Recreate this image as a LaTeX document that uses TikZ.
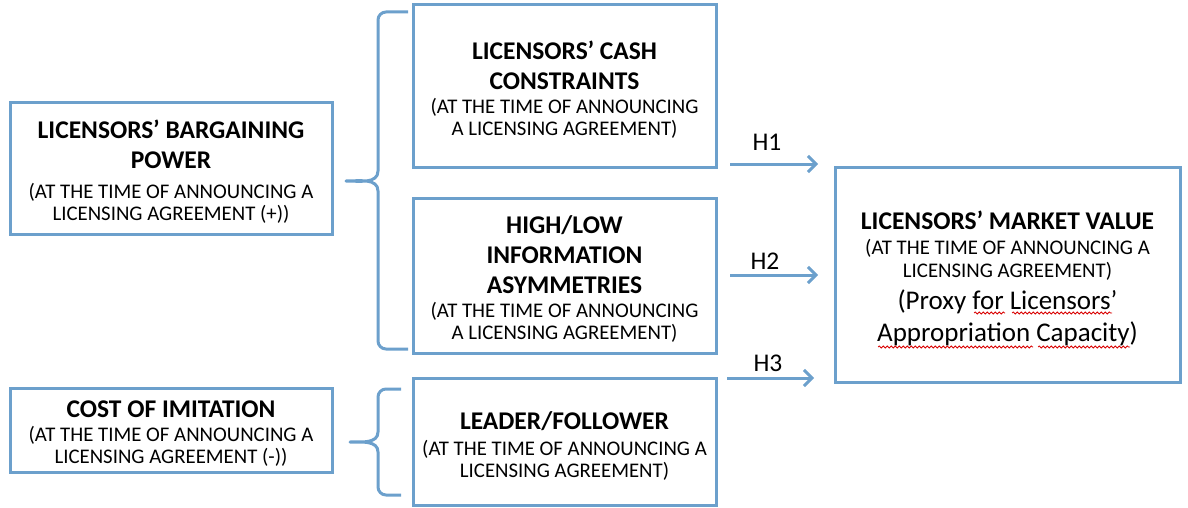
\documentclass[tikz,border=0pt]{standalone}
\usepackage{fontspec}
\setmainfont{Carlito}
\usetikzlibrary{arrows.meta,decorations.pathmorphing}
\definecolor{lineblue}{RGB}{108,160,204}
\tikzset{
  box/.style={draw=lineblue, line width=3pt, fill=white, inner sep=0pt},
  ttl/.style={inner sep=0pt, align=center, font=\fontsize{25.5}{30}\selectfont\bfseries},
  sub/.style={inner sep=0pt, align=center, font=\fontsize{20.8}{22.5}\selectfont},
  prox/.style={inner sep=0pt, align=center, font=\fontsize{27}{32}\selectfont},
  hlab/.style={inner sep=0pt, font=\fontsize{25.5}{28}\selectfont},
  brace/.style={draw=lineblue, line width=3pt, line join=round},
  harrow/.style={draw=lineblue, line width=3pt, -{Straight Barb[length=8pt,width=16pt,line width=3pt]}},
  squig/.style={draw=red!85!black, line width=0.8pt, decorate, decoration={snake, amplitude=1pt, segment length=4pt}}
}
\begin{document}
\begin{tikzpicture}[x=1pt,y=-1pt]
\useasboundingbox (0,0) rectangle (1188,508);
% boxes
\node[box, minimum width=322pt, minimum height=131pt] (barg) at (171,168.5) {};
\node[box, minimum width=303pt, minimum height=162pt] (cash) at (564.5,86) {};
\node[box, minimum width=303pt, minimum height=155pt] (info) at (564.5,275.5) {};
\node[box, minimum width=303pt, minimum height=127pt] (lead) at (564.5,441.5) {};
\node[box, minimum width=322pt, minimum height=84pt] (cost) at (171,430) {};
\node[box, minimum width=345pt, minimum height=215pt] (mkt) at (1007.5,274.5) {};
% texts
\node[ttl] (barg-t) at (171,144.5) {LICENSORS’ BARGAINING\\POWER};
\node[sub] (barg-s) at (171,203.5) {(AT THE TIME OF ANNOUNCING A\\LICENSING AGREEMENT (+))};
\node[ttl] (cash-t) at (564.5,65.5) {LICENSORS’ CASH\\CONSTRAINTS};
\node[sub] (cash-s) at (564.5,118.5) {(AT THE TIME OF ANNOUNCING\\A LICENSING AGREEMENT)};
\node[ttl] (info-t) at (564.5,255) {HIGH/LOW\\INFORMATION\\ASYMMETRIES};
\node[sub] (info-s) at (564.5,322.5) {(AT THE TIME OF ANNOUNCING\\A LICENSING AGREEMENT)};
\node[ttl] (lead-t) at (564.5,421) {LEADER/FOLLOWER};
\node[sub] (lead-s) at (564.5,460.5) {(AT THE TIME OF ANNOUNCING A\\LICENSING AGREEMENT)};
\node[ttl] (cost-t) at (171,409) {COST OF IMITATION};
\node[sub] (cost-s) at (171,446.5) {(AT THE TIME OF ANNOUNCING A\\LICENSING AGREEMENT (-))};
\node[ttl] (mkt-t) at (1007.5,220) {LICENSORS’ MARKET VALUE};
\node[sub] (mkt-s) at (1007.5,260) {(AT THE TIME OF ANNOUNCING A\\LICENSING AGREEMENT)};
\node[prox] (mkt-p) at (1007.5,318) {(Proxy for Licensors’\\Appropriation Capacity)};
% spell-check underlines
\draw[squig] (974,313) -- (1005,313);
\draw[squig] (1012,313) -- (1112,313);
\draw[squig] (878,347) -- (1033,347);
\draw[squig] (1038,347) -- (1130,347);
% braces
\draw[brace] (408,12) -- (386,12) to[out=180,in=90] (378,20) -- (378,171)
  to[out=270,in=0] (346,181) to[out=0,in=90] (378,191) -- (378,341)
  to[out=270,in=180] (386,349) -- (408,349);
\draw[brace] (401,389) -- (386,389) to[out=180,in=90] (378,397) -- (378,432)
  to[out=270,in=0] (350,442) to[out=0,in=90] (378,452) -- (378,487)
  to[out=270,in=180] (386,495) -- (401,495);
% arrows
\coordinate (a1s) at (730,164); \coordinate (a1e) at (818,164);
\coordinate (a2s) at (730,275); \coordinate (a2e) at (818,275);
\coordinate (a3s) at (727,378); \coordinate (a3e) at (814,378);
\draw[harrow] (a1s) -- (a1e);
\draw[harrow] (a2s) -- (a2e);
\draw[harrow] (a3s) -- (a3e);
\node[hlab] (h1) at (767,142) {H1};
\node[hlab] (h2) at (765,261) {H2};
\node[hlab] (h3) at (768,363) {H3};
\end{tikzpicture}
\end{document}
